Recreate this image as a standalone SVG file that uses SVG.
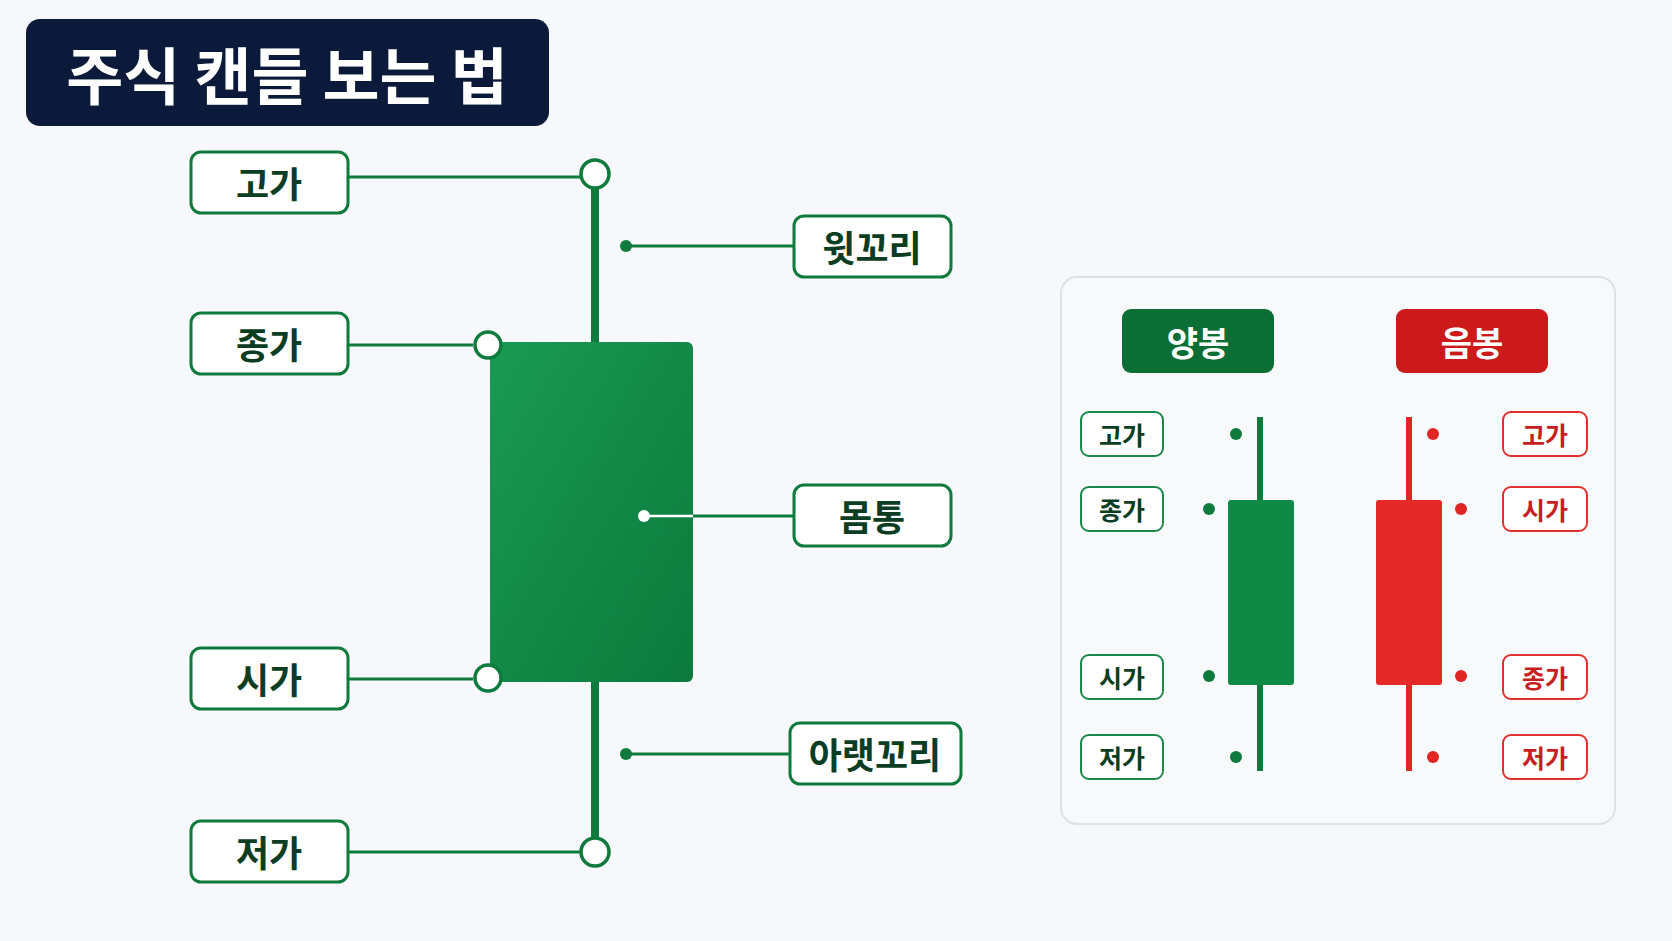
<svg xmlns="http://www.w3.org/2000/svg" width="1672" height="941" viewBox="0 0 1672 941">
<defs>
<linearGradient id="gb" x1="0" y1="0" x2="1" y2="1"><stop offset="0" stop-color="#1a9a52"/><stop offset="1" stop-color="#0b7a3c"/></linearGradient>
<style>
text{font-family:"Noto Sans CJK KR","Noto Sans",sans-serif;font-weight:700;text-anchor:middle;dominant-baseline:central}
.lb rect{fill:#fff;stroke:#0e7a3c;stroke-width:3}
.lb text{fill:#0b3d22;font-size:36px}
.ml rect{fill:#fff;stroke:#1a8a4a;stroke-width:2}
.ml text{fill:#0b3d22;font-size:25px}
.mr rect{fill:#fff;stroke:#e03030;stroke-width:2}
.mr text{fill:#c81e1e;font-size:25px}
.g{stroke:#0e7a3c;stroke-width:3;fill:none}
.r{stroke:#e03030;stroke-width:2.5;fill:none}
</style>
</defs>
<rect width="1672" height="941" fill="#f6f8fb"/>
<g id="title"><rect x="26" y="19" width="523" height="107" rx="14" fill="#0b1a3a"/><text x="287" y="73" fill="#fff" font-size="62">주식 캔들 보는 법</text></g>
<g id="connectors">
<line class="g" x1="348" y1="177" x2="580" y2="177"/>
<line class="g" x1="348" y1="345" x2="473" y2="345"/>
<line class="g" x1="348" y1="679" x2="473" y2="679"/>
<line class="g" x1="348" y1="852" x2="580" y2="852"/>
<line x1="595" y1="174" x2="595" y2="852" stroke="#0e7a3c" stroke-width="8"/>
<line class="g" x1="626" y1="246" x2="794" y2="246"/>
<line class="g" x1="644" y1="516" x2="794" y2="516"/>
<line class="g" x1="626" y1="754" x2="790" y2="754"/>
<circle cx="626" cy="246" r="6" fill="#0e7a3c"/>
<circle cx="626" cy="754" r="6" fill="#0e7a3c"/>
<line x1="1335" y1="330" x2="1335" y2="789" stroke="#d8dde5" stroke-width="1.5" stroke-dasharray="4 4"/>
<line class="g" x1="1163" y1="434" x2="1236" y2="434" stroke-width="2"/>
<line class="g" x1="1163" y1="509" x2="1209" y2="509" stroke-width="2"/>
<line class="g" x1="1163" y1="676" x2="1209" y2="676" stroke-width="2"/>
<line class="g" x1="1163" y1="757" x2="1236" y2="757" stroke-width="2"/>
<line class="r" x1="1433" y1="434" x2="1503" y2="434" stroke-width="2"/>
<line class="r" x1="1461" y1="509" x2="1503" y2="509" stroke-width="2"/>
<line class="r" x1="1461" y1="676" x2="1503" y2="676" stroke-width="2"/>
<line class="r" x1="1433" y1="757" x2="1503" y2="757" stroke-width="2"/>
</g>
<g id="candle">
<rect x="490" y="342" width="203" height="340" rx="6" fill="url(#gb)"/>
<circle cx="595" cy="174" r="14" fill="#fff" stroke="#0e7a3c" stroke-width="3.5"/>
<circle cx="488" cy="345" r="13" fill="#fff" stroke="#0e7a3c" stroke-width="3.5"/>
<circle cx="488" cy="678" r="13" fill="#fff" stroke="#0e7a3c" stroke-width="3.5"/>
<circle cx="595" cy="852" r="14" fill="#fff" stroke="#0e7a3c" stroke-width="3.5"/>
<line x1="644" y1="516" x2="693" y2="516" stroke="#fff" stroke-width="2.5"/>
<circle cx="644" cy="516" r="6" fill="#fff"/>
</g>
<g id="n-high" class="lb"><rect x="191" y="152" width="157" height="61" rx="10"/><text x="269" y="182">고가</text></g>
<g id="n-close" class="lb"><rect x="191" y="313" width="157" height="61" rx="10"/><text x="269" y="343">종가</text></g>
<g id="n-open" class="lb"><rect x="191" y="648" width="157" height="61" rx="10"/><text x="269" y="678">시가</text></g>
<g id="n-low" class="lb"><rect x="191" y="821" width="157" height="61" rx="10"/><text x="269" y="851">저가</text></g>
<g id="n-upper" class="lb"><rect x="794" y="216" width="157" height="61" rx="10"/><text x="872" y="246">윗꼬리</text></g>
<g id="n-body" class="lb"><rect x="794" y="485" width="157" height="61" rx="10"/><text x="872" y="515">몸통</text></g>
<g id="n-lower" class="lb"><rect x="790" y="723" width="171" height="61" rx="10"/><text x="875" y="753">아랫꼬리</text></g>
<g id="panel">
<rect x="1061" y="277" width="554" height="547" rx="16" fill="#f8f9fb" stroke="#dde1e7" stroke-width="2"/>
<rect x="1122" y="309" width="152" height="64" rx="9" fill="#0b6e35"/><text x="1198" y="341" fill="#fff" font-size="34">양봉</text>
<rect x="1396" y="309" width="152" height="64" rx="9" fill="#cc1a1a"/><text x="1472" y="341" fill="#fff" font-size="34">음봉</text>
<line x1="1260" y1="417" x2="1260" y2="771" stroke="#0e7a3c" stroke-width="6"/>
<rect x="1228" y="500" width="66" height="185" rx="3" fill="#0e8a45"/>
<line x1="1409" y1="417" x2="1409" y2="771" stroke="#e02525" stroke-width="6"/>
<rect x="1376" y="500" width="66" height="185" rx="3" fill="#e52828"/>
<g fill="#0e7a3c"><circle cx="1236" cy="434" r="6"/><circle cx="1209" cy="509" r="6"/><circle cx="1209" cy="676" r="6"/><circle cx="1236" cy="757" r="6"/></g>
<g fill="#e02525"><circle cx="1433" cy="434" r="6"/><circle cx="1461" cy="509" r="6"/><circle cx="1461" cy="676" r="6"/><circle cx="1433" cy="757" r="6"/></g>
</g>
<g id="g-high" class="ml"><rect x="1081" y="412" width="82" height="44" rx="8"/><text x="1122" y="434">고가</text></g>
<g id="g-close" class="ml"><rect x="1081" y="487" width="82" height="44" rx="8"/><text x="1122" y="509">종가</text></g>
<g id="g-open" class="ml"><rect x="1081" y="655" width="82" height="44" rx="8"/><text x="1122" y="677">시가</text></g>
<g id="g-low" class="ml"><rect x="1081" y="735" width="82" height="44" rx="8"/><text x="1122" y="757">저가</text></g>
<g id="r-high" class="mr"><rect x="1503" y="412" width="84" height="44" rx="8"/><text x="1545" y="434">고가</text></g>
<g id="r-open" class="mr"><rect x="1503" y="487" width="84" height="44" rx="8"/><text x="1545" y="509">시가</text></g>
<g id="r-close" class="mr"><rect x="1503" y="655" width="84" height="44" rx="8"/><text x="1545" y="677">종가</text></g>
<g id="r-low" class="mr"><rect x="1503" y="735" width="84" height="44" rx="8"/><text x="1545" y="757">저가</text></g>
</svg>
